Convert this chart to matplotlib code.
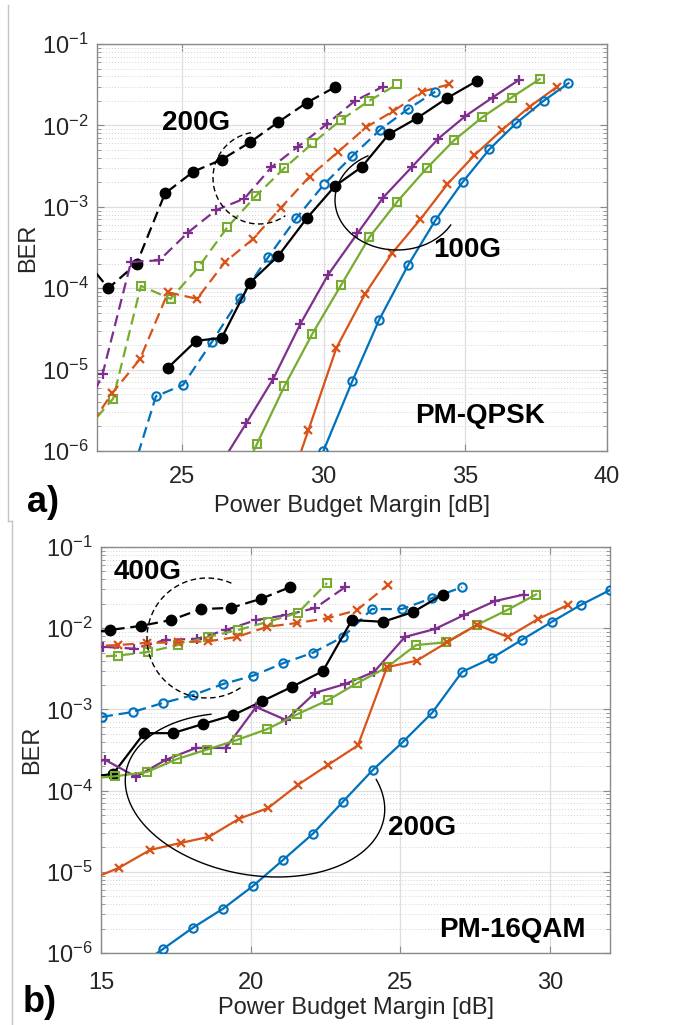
import numpy as np
import matplotlib
matplotlib.use("Agg")
import matplotlib.pyplot as plt
from matplotlib.lines import Line2D
from matplotlib.ticker import LogLocator, LogFormatterSciNotation, NullFormatter, MultipleLocator

plt.rcParams["font.family"] = ["Liberation Sans", "DejaVu Sans"]
plt.rcParams["mathtext.fontset"] = "custom"
plt.rcParams["mathtext.rm"] = "Liberation Sans"
plt.rcParams["mathtext.it"] = "Liberation Sans:italic"
plt.rcParams["mathtext.bf"] = "Liberation Sans:bold"
plt.rcParams["axes.unicode_minus"] = False

# ---------------- a) PM-QPSK ----------------
# 200G (dashed)
q200_blk_x = [21.6, 22.4, 23.4, 24.4, 25.4, 26.4, 27.4, 28.4, 29.4, 30.4]
q200_blk_ber = [2.2e-4, 1.0e-4, 2.0e-4, 1.46e-3, 2.7e-3, 3.8e-3, 6.2e-3, 1.1e-2, 1.9e-2, 2.95e-2]
q200_pur_x = [21.2, 22.2, 23.2, 24.2, 25.2, 26.2, 27.2, 28.15, 29.1, 30.1, 31.1, 32.1]
q200_pur_ber = [1.5e-6, 8.9e-6, 2.1e-4, 2.2e-4, 4.8e-4, 9.1e-4, 1.26e-3, 3.05e-3, 5.5e-3, 1.03e-2, 2.0e-2, 3.0e-2]
q200_grn_x = [21.6, 22.57, 23.55, 24.6, 25.6, 26.6, 27.6, 28.6, 29.6, 30.6, 31.6, 32.6]
q200_grn_ber = [1.8e-6, 4.4e-6, 1.07e-4, 7.4e-5, 1.85e-4, 5.6e-4, 1.35e-3, 2.96e-3, 6.0e-3, 1.16e-2, 2.0e-2, 3.2e-2]
q200_org_x = [21.5, 22.53, 23.52, 24.51, 25.53, 26.52, 27.5, 28.5, 29.5, 30.5, 31.5, 32.46, 33.48, 34.44]
q200_org_ber = [1.5e-6, 5.1e-6, 1.35e-5, 8.9e-5, 7.4e-5, 2.1e-4, 4.0e-4, 9.8e-4, 2.35e-3, 4.7e-3,
                9.5e-3, 1.5e-2, 2.6e-2, 3.2e-2]
q200_blu_x = [23.1, 24.08, 25.04, 26.06, 27.05, 28.04, 29.03, 30.02, 31.01, 32.0, 32.99, 33.94]
q200_blu_ber = [3.7e-7, 4.7e-6, 6.5e-6, 2.2e-5, 7.6e-5, 2.4e-4, 7.2e-4, 1.9e-3, 4.2e-3, 8.9e-3, 1.6e-2, 2.6e-2]
# 100G (solid)
q100_blk_x = [24.5, 25.5, 26.4, 27.4, 28.4, 29.4, 30.4, 31.35, 32.3, 33.3, 34.35, 35.4]
q100_blk_ber = [1.05e-5, 2.26e-5, 2.45e-5, 1.17e-4, 2.5e-4, 7.2e-4, 1.8e-3, 3.1e-3, 7.8e-3, 1.23e-2, 2.16e-2, 3.5e-2]
q100_pur_x = [26.3, 27.27, 28.22, 29.17, 30.16, 31.19, 32.1, 33.1, 34.05, 35.0, 35.96, 36.88]
q100_pur_ber = [6.3e-7, 2.2e-6, 7.7e-6, 3.6e-5, 1.47e-4, 4.7e-4, 1.3e-3, 3.05e-3, 6.9e-3, 1.3e-2, 2.2e-2, 3.6e-2]
q100_grn_x = [26.66, 27.65, 28.61, 29.6, 30.62, 31.61, 32.6, 33.63, 34.61, 35.6, 36.63, 37.62]
q100_grn_ber = [2.3e-7, 1.23e-6, 6.2e-6, 2.75e-5, 1.1e-4, 4.2e-4, 1.16e-3, 2.96e-3, 6.6e-3, 1.26e-2, 2.2e-2, 3.7e-2]
q100_org_x = [28.47, 29.46, 30.45, 31.47, 32.42, 33.41, 34.37, 35.32, 36.31, 37.27, 38.22]
q100_org_ber = [1.8e-7, 1.8e-6, 1.85e-5, 8.6e-5, 2.7e-4, 7.0e-4, 1.9e-3, 4.3e-3, 8.9e-3, 1.7e-2, 2.95e-2]
q100_blu_x = [29.99, 31.01, 31.96, 32.99, 33.94, 34.9, 35.85, 36.8, 37.76, 38.64]
q100_blu_ber = [1.0e-6, 7.2e-6, 4.1e-5, 1.95e-4, 6.8e-4, 2.0e-3, 5.1e-3, 1.07e-2, 2.0e-2, 3.3e-2]

# ---------------- b) PM-16QAM ----------------
# 400G (dashed)
h400_blk_x = [14.3, 15.3, 16.34, 17.34, 18.34, 19.34, 20.34, 21.31]
h400_blk_ber = [8.5e-3, 9.5e-3, 1.07e-2, 1.26e-2, 1.72e-2, 1.78e-2, 2.3e-2, 3.2e-2]
h400_pur_x = [14.1, 15.07, 16.1, 17.17, 18.2, 19.17, 20.18, 21.18, 22.15, 23.15]
h400_pur_ber = [5.8e-3, 5.9e-3, 5.6e-3, 7.2e-3, 7.4e-3, 9.5e-3, 1.26e-2, 1.45e-2, 1.77e-2, 3.2e-2]
h400_grn_x = [14.6, 15.57, 16.57, 17.57, 18.57, 19.58, 20.58, 21.58, 22.55]
h400_grn_ber = [4.4e-3, 4.6e-3, 5.1e-3, 6.2e-3, 7.8e-3, 9.5e-3, 1.2e-2, 1.55e-2, 3.6e-2]
h400_org_x = [14.6, 15.57, 16.54, 17.57, 18.57, 19.54, 20.54, 21.55, 22.58, 23.55, 24.58]
h400_org_ber = [6.0e-3, 6.2e-3, 6.6e-3, 6.7e-3, 6.9e-3, 7.8e-3, 1.04e-2, 1.16e-2, 1.33e-2, 1.67e-2, 3.4e-2]
h400_blu_x = [15.03, 16.07, 17.07, 18.07, 19.07, 20.08, 21.08, 22.08, 23.08, 24.05, 25.05, 26.06, 27.06]
h400_blu_ber = [8.1e-4, 9.3e-4, 1.2e-3, 1.5e-3, 2.05e-3, 2.6e-3, 3.7e-3, 5.0e-3, 7.8e-3, 1.72e-2,
                1.72e-2, 2.35e-2, 3.2e-2]
# 200G (solid)
h200_blk_x = [14.4, 15.4, 16.44, 17.4, 18.4, 19.41, 20.38, 21.38, 22.41, 23.38, 24.42, 25.42, 26.42]
h200_blk_ber = [1.45e-4, 1.6e-4, 5.1e-4, 5.1e-4, 6.6e-4, 8.5e-4, 1.26e-3, 1.9e-3, 2.96e-3, 1.26e-2,
                1.2e-2, 1.58e-2, 2.6e-2]
h200_pur_x = [14.2, 15.13, 16.17, 17.17, 18.17, 19.17, 20.18, 21.18, 22.15, 23.15, 24.12, 25.15,
              26.16, 27.12, 28.16, 29.13]
h200_pur_ber = [1.9e-4, 2.4e-4, 1.48e-4, 2.4e-4, 3.35e-4, 3.35e-4, 1.07e-3, 7.4e-4, 1.6e-3, 2.05e-3,
                2.9e-3, 7.8e-3, 9.8e-3, 1.45e-2, 2.16e-2, 2.6e-2]
h200_grn_x = [14.5, 15.47, 16.54, 17.54, 18.54, 19.54, 20.54, 21.55, 22.58, 23.55, 24.55, 25.52,
              26.52, 27.56, 28.56, 29.53]
h200_grn_ber = [1.4e-4, 1.5e-4, 1.7e-4, 2.45e-4, 3.2e-4, 4.2e-4, 5.7e-4, 8.7e-4, 1.3e-3, 2.1e-3,
                3.3e-3, 6.2e-3, 6.7e-3, 1.1e-2, 1.67e-2, 2.6e-2]
h200_org_x = [14.6, 15.6, 16.64, 17.67, 18.61, 19.61, 20.58, 21.58, 22.58, 23.58, 24.55, 25.55,
              26.56, 27.56, 28.59, 29.6, 30.6]
h200_org_ber = [7.9e-6, 1.12e-5, 1.86e-5, 2.27e-5, 2.7e-5, 4.5e-5, 6.1e-5, 1.18e-4, 2.07e-4, 3.6e-4,
                3.3e-3, 4.0e-3, 6.7e-3, 1.1e-2, 7.8e-3, 1.3e-2, 1.94e-2]
h200_blu_x = [16.07, 17.07, 18.07, 19.07, 20.08, 21.08, 22.08, 23.08, 24.08, 25.09, 26.06, 27.06,
              28.06, 29.06, 30.06, 31.03, 32.0]
h200_blu_ber = [6.2e-7, 1.12e-6, 2.05e-6, 3.5e-6, 6.7e-6, 1.4e-5, 2.95e-5, 7.3e-5, 1.8e-4, 4.0e-4,
                9.1e-4, 2.9e-3, 4.3e-3, 7.2e-3, 1.2e-2, 1.94e-2, 2.95e-2]

# matlab default colors
BLK, PUR, GRN, ORG, BLU = "k", "#7E2F8E", "#77AC30", "#D95319", "#0072BD"
STYLE = {
    "blk": dict(color=BLK, marker="o", ms=7.5, mfc=BLK, mew=1.0),
    "pur": dict(color=PUR, marker="+", ms=7, mew=1.6),
    "grn": dict(color=GRN, marker="s", ms=5.5, mfc="none", mew=1.5),
    "org": dict(color=ORG, marker="x", ms=5.5, mew=1.6),
    "blu": dict(color=BLU, marker="o", ms=6, mfc="none", mew=1.5),
}

FW, FH = 683, 1025
TOP_BOX = (97, 44, 607, 451)    # left, top, right, bottom in image pixels
BOT_BOX = (101, 547, 610, 953)


def make_axes(fig, box):
    l, t, r, b = box
    return fig.add_axes([l / FW, 1 - b / FH, (r - l) / FW, (b - t) / FH])


def to_ax(box, px, py):
    l, t, r, b = box
    return (px - l) / (r - l), (b - py) / (b - t)


def arc(ax, box, cpx, cpy, rx, ry, t0, t1, rot=0.0, ls="-"):
    # ellipse arc given in image pixels, drawn in axes coords
    tt = np.radians(np.linspace(t0, t1, 300))
    ph = np.radians(rot)
    dx, dy = rx * np.cos(tt), ry * np.sin(tt)
    px = cpx + dx * np.cos(ph) - dy * np.sin(ph)
    py = cpy - (dx * np.sin(ph) + dy * np.cos(ph))
    ax_x, ax_y = to_ax(box, px, py)
    ax.plot(ax_x, ax_y, transform=ax.transAxes, color="k", lw=1.0,
            ls=(0, (4, 2.5)) if ls == "--" else "-", clip_on=False, zorder=6)


def style_axes(ax, xlim, xstep, xpad, xlabpad):
    ax.set_yscale("log")
    ax.set_xlim(*xlim)
    ax.set_ylim(1e-6, 1e-1)
    ax.xaxis.set_major_locator(MultipleLocator(xstep))
    ax.yaxis.set_major_locator(LogLocator(base=10, numticks=10))
    ax.yaxis.set_minor_locator(LogLocator(base=10, subs=np.arange(2, 10), numticks=20))
    ax.yaxis.set_major_formatter(LogFormatterSciNotation())
    ax.yaxis.set_minor_formatter(NullFormatter())
    ax.grid(True, which="major", color="#dedede", lw=0.9)
    ax.grid(True, which="minor", axis="y", color="#d2d2d2", lw=0.7, ls=(0, (1, 2)))
    ax.set_axisbelow(True)
    for s in ax.spines.values():
        s.set_color("#8a8a8a")
        s.set_linewidth(1.0)
    ax.tick_params(which="both", direction="in", top=True, right=True,
                   colors="#8a8a8a", labelcolor="#262626", labelsize=17)
    ax.tick_params(which="major", length=5)
    ax.tick_params(which="minor", length=3)
    ax.tick_params(axis="x", pad=xpad)
    ax.tick_params(axis="y", pad=6)
    ax.set_xlabel("Power Budget Margin [dB]", fontsize=17, color="#262626", labelpad=xlabpad)
    ax.set_ylabel("BER", fontsize=17, color="#262626", labelpad=2)


def series(ax, x, y, key, dashed):
    ax.plot(x, y, ls=(0, (5, 2.6)) if dashed else "-", lw=1.6, **STYLE[key], zorder=3)


fig = plt.figure(figsize=(FW / 100, FH / 100), dpi=100)

# ---- panel a ----
ax1 = make_axes(fig, TOP_BOX)
series(ax1, q200_blk_x, q200_blk_ber, "blk", True)
series(ax1, q200_pur_x, q200_pur_ber, "pur", True)
series(ax1, q200_grn_x, q200_grn_ber, "grn", True)
series(ax1, q200_org_x, q200_org_ber, "org", True)
series(ax1, q200_blu_x, q200_blu_ber, "blu", True)
series(ax1, q100_blk_x, q100_blk_ber, "blk", False)
series(ax1, q100_pur_x, q100_pur_ber, "pur", False)
series(ax1, q100_grn_x, q100_grn_ber, "grn", False)
series(ax1, q100_org_x, q100_org_ber, "org", False)
series(ax1, q100_blu_x, q100_blu_ber, "blu", False)
style_axes(ax1, (22, 40), 5, 11, 5)

arc(ax1, TOP_BOX, 259, 178, 46, 46, 100, 305, ls="--")
arc(ax1, TOP_BOX, 397, 200, 62, 50, 118, 330)
for txt, px, py in [("200G", 196, 123), ("100G", 467, 250), ("PM-QPSK", 480, 416)]:
    ax1.text(*to_ax(TOP_BOX, px, py), txt, transform=ax1.transAxes, ha="center", va="center",
             fontsize=20, fontweight="bold", zorder=7)

# ---- panel b ----
ax2 = make_axes(fig, BOT_BOX)
series(ax2, h400_blk_x, h400_blk_ber, "blk", True)
series(ax2, h400_pur_x, h400_pur_ber, "pur", True)
series(ax2, h400_grn_x, h400_grn_ber, "grn", True)
series(ax2, h400_org_x, h400_org_ber, "org", True)
series(ax2, h400_blu_x, h400_blu_ber, "blu", True)
series(ax2, h200_blk_x, h200_blk_ber, "blk", False)
series(ax2, h200_pur_x, h200_pur_ber, "pur", False)
series(ax2, h200_grn_x, h200_grn_ber, "grn", False)
series(ax2, h200_org_x, h200_org_ber, "org", False)
series(ax2, h200_blu_x, h200_blu_ber, "blu", False)
style_axes(ax2, (15, 32), 5, 14, 2)

arc(ax2, BOT_BOX, 207, 638, 60, 60, 66, 304, ls="--")
arc(ax2, BOT_BOX, 255, 795, 131, 80, 116, 387, rot=-10)
for txt, px, py in [("400G", 148, 572), ("200G", 422, 828), ("PM-16QAM", 512, 930)]:
    ax2.text(*to_ax(BOT_BOX, px, py), txt, transform=ax2.transAxes, ha="center", va="center",
             fontsize=20, fontweight="bold", zorder=7)

# panel letters
fig.text(43 / FW, 1 - 503 / FH, "a)", fontsize=26, fontweight="bold", ha="center", va="center")
fig.text(40 / FW, 1 - 1003 / FH, "b)", fontsize=26, fontweight="bold", ha="center", va="center")

# light frame lines from the stitched screenshot
gray = "#c4c4c4"
fig.add_artist(Line2D([8 / FW, 8 / FW], [1 - 5 / FH, 1 - 521 / FH], color=gray, lw=1))
fig.add_artist(Line2D([8 / FW, 12 / FW], [1 - 521 / FH, 1 - 521 / FH], color=gray, lw=1))
fig.add_artist(Line2D([12 / FW, 12 / FW], [1 - 521 / FH, 0], color=gray, lw=1))

fig.savefig("out.png", dpi=100, facecolor="white")
